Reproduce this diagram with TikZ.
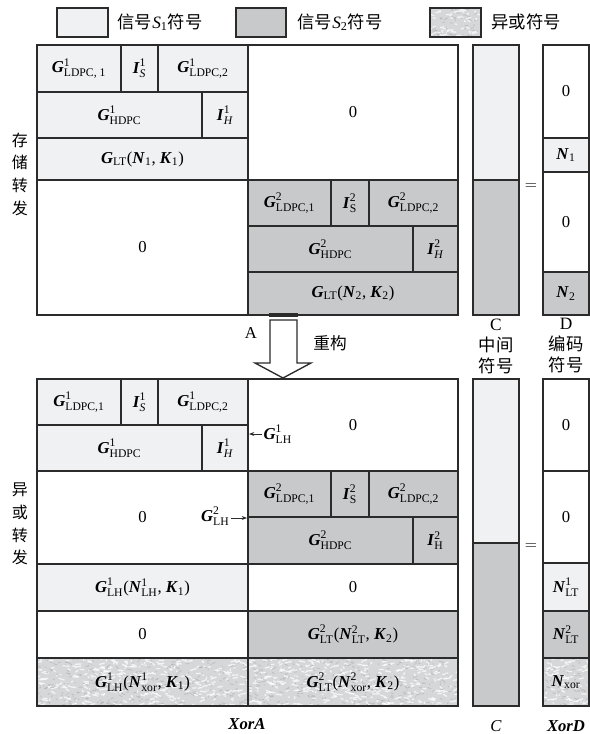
\documentclass[tikz,border=0pt]{standalone}
\usepackage{fontspec}
\setmainfont{Liberation Serif}
\newfontfamily\cjk{Noto Sans CJK SC}
\usepackage{amsmath}
\usetikzlibrary{arrows.meta}

\definecolor{sonecol}{HTML}{F0F1F3}
\definecolor{stwocol}{HTML}{C8C9CB}
\definecolor{xorcol}{HTML}{D6D7D9}
\definecolor{linecol}{HTML}{2B2B2B}

\tikzstyle{box} = [draw=linecol, line width=1pt]
\tikzstyle{sone} = [box, fill=sonecol]
\tikzstyle{stwo} = [box, fill=stwocol]
\tikzstyle{zero} = [box, fill=white]
\tikzstyle{lbl} = [inner sep=1pt, font=\fontsize{12.5}{15}\selectfont]
\tikzstyle{legtext} = [inner sep=1pt, anchor=west, font=\fontsize{13}{16}\selectfont]
\tikzstyle{side} = [inner sep=0pt, align=center, font=\fontsize{12}{17}\selectfont\cjk]
\tikzstyle{colhead} = [inner sep=0pt, align=center, font=\fontsize{13}{15.75}\selectfont]

\newcommand{\bi}[1]{\textbf{\textit{#1}}}
\newcommand{\tx}[1]{\text{#1}}
% one cell of a matrix: style, corners, name, text
\newcommand{\cell}[7]{%
  \draw[#1] (#2,#3) rectangle (#4,#5);
  \node[lbl] (#6) at ({(#2+#4)/2},{(#3+#5)/2}) {#7};}
% granite look of the xor symbols
\newcommand{\marble}[4]{%
  \begin{scope}
    \clip (#1,#2) rectangle (#3,#4);
    \fill[xorcol] (#1,#2) rectangle (#3,#4);
    \pgfmathtruncatemacro{\mn}{(#3-#1)*(#4-#2)/30}
    \foreach \k in {1,...,\mn}{
      \pgfmathsetmacro{\mx}{#1+rnd*(#3-#1)}
      \pgfmathsetmacro{\my}{#2+rnd*(#4-#2)}
      \pgfmathsetmacro{\mdx}{6*rand}
      \pgfmathsetmacro{\mdy}{2*rand}
      \draw[white, line width=1pt, opacity=0.7, line cap=round] (\mx,\my) -- ++(\mdx,\mdy);
      \pgfmathsetmacro{\mx}{#1+rnd*(#3-#1)}
      \pgfmathsetmacro{\my}{#2+rnd*(#4-#2)}
      \pgfmathsetmacro{\mdx}{4*rand}
      \pgfmathsetmacro{\mdy}{2*rand}
      \draw[gray!75, line width=0.6pt, opacity=0.45] (\mx,\my) -- ++(\mdx,\mdy);
    }
  \end{scope}}

\begin{document}
\begin{tikzpicture}[x=0.75pt, y=-0.75pt]
\pgfmathsetseed{7}
\useasboundingbox (0,0) rectangle (589,734);

%begin legend
\draw[sone] (57,8) rectangle (108,37);
\node[legtext] (legone) at (116,22) {{\cjk 信号}$\textit{S}_{\tx{1}}${\cjk 符号}};
\draw[stwo] (236,8) rectangle (286,37);
\node[legtext] (legtwo) at (296,22) {{\cjk 信号}$\textit{S}_{\tx{2}}${\cjk 符号}};
\marble{430}{8}{481}{37}
\draw[box] (430,8) rectangle (481,37);
\node[legtext] (legxor) at (490,22) {\cjk 异或符号};
%end legend

%begin store-and-forward
\node[side] (store) at (20,174) {存\\储\\转\\发};
\cell{sone}{37}{45}{121}{92}{ua1}{$\bi{G}^{\tx{1}}_{\tx{LDPC, 1}}$}
\cell{sone}{121}{45}{158}{92}{ua2}{$\bi{I}^{\tx{1}}_{\textit{S}}$}
\cell{sone}{158}{45}{248}{92}{ua3}{$\bi{G}^{\tx{1}}_{\tx{LDPC,2}}$}
\cell{sone}{37}{92}{202}{138}{ub1}{$\bi{G}^{\tx{1}}_{\tx{HDPC}}$}
\cell{sone}{202}{92}{248}{138}{ub2}{$\bi{I}^{\tx{1}}_{\textit{H}}$}
\cell{sone}{37}{138}{248}{180}{uc1}{$\bi{G}_{\tx{LT}}\tx{(}\bi{N}_{\tx{1}}\tx{, }\bi{K}_{\tx{1}}\tx{)}$}
\cell{zero}{248}{45}{458}{180}{uz1}{0}
\cell{zero}{37}{180}{248}{315}{uz2}{0}
\cell{stwo}{248}{180}{331}{226}{ud1}{$\bi{G}^{\tx{2}}_{\tx{LDPC,1}}$}
\cell{stwo}{331}{180}{369}{226}{ud2}{$\bi{I}^{\tx{2}}_{\tx{S}}$}
\cell{stwo}{369}{180}{458}{226}{ud3}{$\bi{G}^{\tx{2}}_{\tx{LDPC,2}}$}
\cell{stwo}{248}{226}{413}{272}{ue1}{$\bi{G}^{\tx{2}}_{\tx{HDPC}}$}
\cell{stwo}{413}{226}{458}{272}{ue2}{$\bi{I}^{\tx{2}}_{\textit{H}}$}
\cell{stwo}{248}{272}{458}{315}{uf1}{$\bi{G}_{\tx{LT}}\tx{(}\bi{N}_{\tx{2}}\tx{, }\bi{K}_{\tx{2}}\tx{)}$}
% columns C and D
\draw[sone] (473,45) rectangle (519,180);
\draw[stwo] (473,180) rectangle (519,315);
\node[lbl] (eqone) at (531,187) {$=$};
\cell{zero}{543}{45}{589}{138}{da1}{0}
\cell{sone}{543}{138}{589}{172}{da2}{$\bi{N}_{\tx{1}}$}
\cell{zero}{543}{172}{589}{272}{da3}{0}
\cell{stwo}{543}{272}{589}{315}{da4}{$\bi{N}_{\tx{2}}$}
\node[colhead] (chead) at (496,346) {C\\{\cjk 中间}\\{\cjk 符号}};
\node[colhead] (dhead) at (566,346) {D\\{\cjk 编码}\\{\cjk 符号}};
%end store-and-forward

%begin rebuild arrow
\draw[box, fill=white] (270,320) -- (297,320) -- (297,363) -- (311,363)
  -- (283,378) -- (255,363) -- (270,363) -- cycle;
\fill[linecol] (269,313) rectangle (298,317);
\node[lbl] (atag) at (251,333) {A};
\node[lbl] (rebuild) at (330,343) {\cjk 重构};
%end rebuild arrow

%begin xor-and-forward
\node[side] (xorfwd) at (20,524) {异\\或\\转\\发};
\cell{sone}{37}{379}{121}{425}{la1}{$\bi{G}^{\tx{1}}_{\tx{LDPC,1}}$}
\cell{sone}{121}{379}{158}{425}{la2}{$\bi{I}^{\tx{1}}_{\textit{S}}$}
\cell{sone}{158}{379}{248}{425}{la3}{$\bi{G}^{\tx{1}}_{\tx{LDPC,2}}$}
\cell{sone}{37}{425}{202}{471}{lb1}{$\bi{G}^{\tx{1}}_{\tx{HDPC}}$}
\cell{sone}{202}{425}{248}{471}{lb2}{$\bi{I}^{\tx{1}}_{\textit{H}}$}
\cell{zero}{248}{379}{458}{471}{lz1}{0}
\cell{zero}{37}{471}{248}{564}{lz2}{0}
\cell{stwo}{248}{471}{331}{517}{lc1}{$\bi{G}^{\tx{2}}_{\tx{LDPC,1}}$}
\cell{stwo}{331}{471}{369}{517}{lc2}{$\bi{I}^{\tx{2}}_{\tx{S}}$}
\cell{stwo}{369}{471}{458}{517}{lc3}{$\bi{G}^{\tx{2}}_{\tx{LDPC,2}}$}
\cell{stwo}{248}{517}{413}{564}{ld1}{$\bi{G}^{\tx{2}}_{\tx{HDPC}}$}
\cell{stwo}{413}{517}{458}{564}{ld2}{$\bi{I}^{\tx{2}}_{\tx{H}}$}
\cell{sone}{37}{564}{248}{611}{le1}{$\bi{G}^{\tx{1}}_{\tx{LH}}\tx{(}\bi{N}^{\tx{1}}_{\tx{LH}}\tx{, }\bi{K}_{\tx{1}}\tx{)}$}
\cell{zero}{248}{564}{458}{611}{lz3}{0}
\cell{zero}{37}{611}{248}{658}{lz4}{0}
\cell{stwo}{248}{611}{458}{658}{lf1}{$\bi{G}^{\tx{2}}_{\tx{LT}}\tx{(}\bi{N}^{\tx{2}}_{\tx{LT}}\tx{, }\bi{K}_{\tx{2}}\tx{)}$}
\marble{37}{658}{248}{706}
\marble{248}{658}{458}{706}
\cell{box}{37}{658}{248}{706}{lg1}{$\bi{G}^{\tx{1}}_{\tx{LH}}\tx{(}\bi{N}^{\tx{1}}_{\tx{xor}}\tx{, }\bi{K}_{\tx{1}}\tx{)}$}
\cell{box}{248}{658}{458}{706}{lg2}{$\bi{G}^{\tx{2}}_{\tx{LT}}\tx{(}\bi{N}^{\tx{2}}_{\tx{xor}}\tx{, }\bi{K}_{\tx{2}}\tx{)}$}
% pointers to the LH parts
\coordinate (lhone) at (249,434);
\coordinate (lhtwo) at (247,518);
\node[lbl, anchor=west] (glhone) at (262,434) {$\bi{G}^{\tx{1}}_{\tx{LH}}$};
\node[lbl, anchor=east] (glhtwo) at (231,516) {$\bi{G}^{\tx{2}}_{\tx{LH}}$};
\draw[-{Stealth[length=4pt,width=3pt]}, linecol, line width=0.6pt] (glhone.west) -- (lhone);
\draw[-{Stealth[length=4pt,width=3pt]}, linecol, line width=0.6pt] (glhtwo.east |- lhtwo) -- (lhtwo);
% columns C and XorD
\draw[sone] (473,379) rectangle (519,543);
\draw[stwo] (473,543) rectangle (519,706);
\node[lbl] (eqtwo) at (531,547) {$=$};
\cell{zero}{543}{379}{589}{471}{xa1}{0}
\cell{zero}{543}{471}{589}{563}{xa2}{0}
\cell{sone}{543}{563}{589}{611}{xa3}{$\bi{N}^{\tx{1}}_{\tx{LT}}$}
\cell{stwo}{543}{611}{589}{658}{xa4}{$\bi{N}^{\tx{2}}_{\tx{LT}}$}
\marble{543}{658}{589}{706}
\cell{box}{543}{658}{589}{706}{xa5}{$\bi{N}_{\tx{xor}}$}
\node[lbl] (xora) at (247,724) {\bi{XorA}};
\node[lbl] (ctag) at (496,726) {\textit{C}};
\node[lbl] (xord) at (566,726) {\bi{XorD}};
%end xor-and-forward
\end{tikzpicture}
\end{document}
